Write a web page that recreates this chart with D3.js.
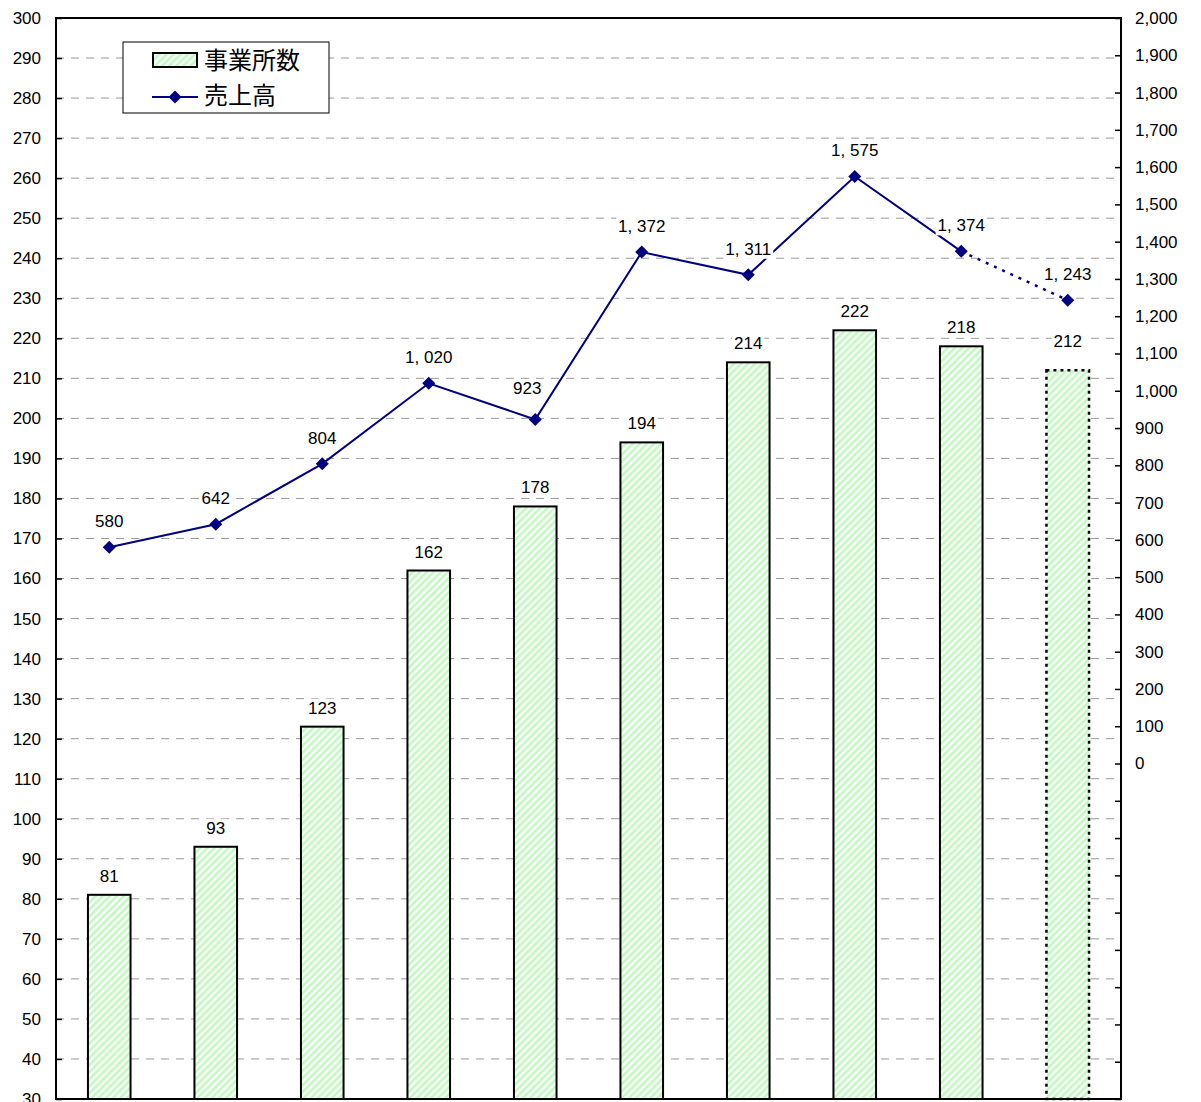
<!DOCTYPE html>
<html>
<head>
<meta charset="utf-8">
<script src="https://cdn.jsdelivr.net/npm/d3@7"></script>
<style>
  body { margin: 0; background: #fff; }
  svg { display: block; }
  text { font-family: "Liberation Sans", Arial, sans-serif; }
</style>
</head>
<body>
<div id="chart"></div>
<script>
// categories are not visible in the crop, so they only drive the band scale
var categories = ["1", "2", "3", "4", "5", "6", "7", "8", "9", "10"]
var offices = [81, 93, 123, 162, 178, 194, 214, 222, 218, 212]   // 事業所数 (left axis)
var sales = [580, 642, 804, 1020, 923, 1372, 1311, 1575, 1374, 1243] // 売上高 (right axis)
var leftTicks = d3.range(30, 301, 10)
var rightTicks = d3.range(-900, 2001, 100)
var seriesNames = ["事業所数", "売上高"]

var width = 1201, height = 1102
var plot = {left: 56, right: 1121, top: 18, bottom: 1099}

var svg = d3.select("#chart").append("svg")
    .attr("width", width)
    .attr("height", height)

// hatch fill for the bars
var defs = svg.append("defs")
var pat = defs.append("pattern")
    .attr("id", "hatch")
    .attr("patternUnits", "userSpaceOnUse")
    .attr("width", 5).attr("height", 5)
    .attr("patternTransform", "rotate(45)")
pat.append("rect").attr("width", 5).attr("height", 5).attr("fill", "#f4fff4")
pat.append("rect").attr("width", 2.5).attr("height", 5).attr("fill", "#c8f5c8")

var x = d3.scaleBand()
    .domain(categories)
    .range([plot.left, plot.right])
    .paddingInner(0.6)
    .paddingOuter(0.3)

var yL = d3.scaleLinear().domain([30, 300]).range([plot.bottom, plot.top])
var yR = d3.scaleLinear().domain([-900, 2000]).range([plot.bottom, plot.top])

// gridlines
svg.append("g")
    .selectAll("line")
    .data(leftTicks.filter(d => d > 30 && d < 300))
    .join("line")
        .attr("x1", plot.left).attr("x2", plot.right)
        .attr("y1", d => yL(d)).attr("y2", d => yL(d))
        .attr("stroke", "#999")
        .attr("stroke-width", 1)
        .attr("stroke-dasharray", "8,7")

// axes
var axL = svg.append("g")
    .attr("transform", `translate(${plot.left},0)`)
    .call(d3.axisLeft(yL).tickValues(leftTicks).tickSizeInner(-6).tickSizeOuter(0).tickPadding(15))
var axR = svg.append("g")
    .attr("transform", `translate(${plot.right},0)`)
    .call(d3.axisRight(yR).tickValues(rightTicks).tickSizeInner(-6).tickSizeOuter(0).tickPadding(14)
        .tickFormat(d => d < 0 ? "" : d3.format(",")(d)))
;[axL, axR].forEach(ax => {
    ax.select(".domain").remove()
    ax.selectAll(".tick line").attr("stroke", "#000").attr("stroke-width", 1.5)
    ax.selectAll("text").attr("font-size", 17).attr("fill", "#000")
        .style("font-family", '"Liberation Sans", Arial, sans-serif')
})

// bars
var last = categories.length - 1
svg.append("g")
    .selectAll("rect")
    .data(offices)
    .join("rect")
        .attr("x", (d, i) => x(categories[i]))
        .attr("y", d => yL(d))
        .attr("width", x.bandwidth())
        .attr("height", d => yL(30) - yL(d))
        .attr("fill", "url(#hatch)")
        .attr("stroke", "#000")
        .attr("stroke-width", (d, i) => i == last ? 2.5 : 2)
        .attr("stroke-dasharray", (d, i) => i == last ? "3,4" : null)

// frame
svg.append("rect")
    .attr("x", plot.left).attr("y", plot.top)
    .attr("width", plot.right - plot.left).attr("height", plot.bottom - plot.top)
    .attr("fill", "none").attr("stroke", "#000").attr("stroke-width", 2)

// sales line, last segment dotted (estimate)
var cx = i => x(categories[i]) + x.bandwidth() / 2
var pts = sales.map((d, i) => [cx(i), yR(d)])
var line = d3.line()
svg.append("path")
    .attr("d", line(pts.slice(0, last)))
    .attr("fill", "none").attr("stroke", "#000080").attr("stroke-width", 2)
svg.append("path")
    .attr("d", line(pts.slice(last - 1)))
    .attr("fill", "none").attr("stroke", "#000080").attr("stroke-width", 2.5)
    .attr("stroke-dasharray", "3,6")

var diamond = d3.symbol(d3.symbolSquare, 85)
svg.append("g")
    .selectAll("path")
    .data(pts)
    .join("path")
        .attr("d", diamond)
        .attr("transform", d => `translate(${d[0]},${d[1]}) rotate(45)`)
        .attr("fill", "#000080")

// value labels with white boxes
function label(g, px, py, txt) {
    var t = g.append("text")
        .attr("x", px).attr("y", py)
        .attr("text-anchor", "middle")
        .attr("font-size", 17)
        .text(txt)
    var b = t.node().getBBox()
    g.insert("rect", "text")
        .attr("x", b.x - 2).attr("y", b.y)
        .attr("width", b.width + 4).attr("height", b.height)
        .attr("fill", "#fff")
}
var labels = svg.append("g")
offices.forEach((d, i) => {
    var g = labels.append("g")
    label(g, cx(i), yL(d) - (i == last ? 23 : 13), d)
})
sales.forEach((d, i) => {
    var g = labels.append("g")
    label(g, cx(i) - (i == 4 ? 8 : 0), yR(d) - (i == 4 ? 25 : 20), d3.format(",")(d).replace(",", ", "))
})

// legend
var lg = svg.append("g")
lg.append("rect")
    .attr("x", 123).attr("y", 42).attr("width", 206).attr("height", 71)
    .attr("fill", "#fff").attr("stroke", "#000").attr("stroke-width", 1)
lg.append("rect")
    .attr("x", 153).attr("y", 53).attr("width", 44).attr("height", 14)
    .attr("fill", "url(#hatch)").attr("stroke", "#000").attr("stroke-width", 2)
lg.append("line")
    .attr("x1", 152).attr("x2", 198).attr("y1", 97).attr("y2", 97)
    .attr("stroke", "#000080").attr("stroke-width", 2)
lg.append("path")
    .attr("d", diamond)
    .attr("transform", "translate(175,97) rotate(45)")
    .attr("fill", "#000080")
lg.selectAll("text.leg")
    .data(seriesNames)
    .join("text")
        .attr("class", "leg")
        .attr("x", 204)
        .attr("y", (d, i) => 69 + i * 35)
        .attr("font-size", 24)
        .style("font-family", '"Noto Sans CJK JP", sans-serif')
        .text(d => d)
</script>
</body>
</html>
